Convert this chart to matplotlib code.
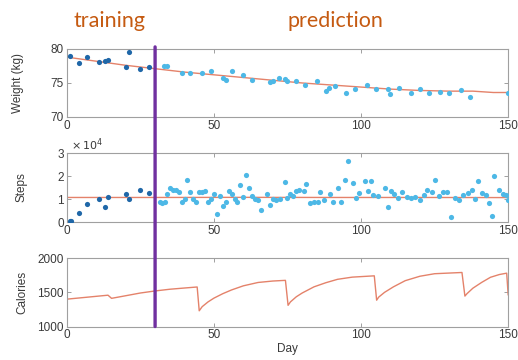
import matplotlib
matplotlib.use("Agg")
import matplotlib.pyplot as plt
from matplotlib.patches import ConnectionPatch

# observed weight (kg)
train_days = [1, 4, 7, 11, 13, 14, 20, 21, 25, 28]
train_weight = [78.9, 78.0, 78.8, 78.1, 78.3, 78.4, 77.3, 79.6, 77.1, 77.3]
pred_days = [33, 34, 39, 42, 46, 49, 53, 54, 56, 60, 63, 69, 70, 72, 74, 75, 78, 81,
             85, 88, 89, 91, 95, 98, 102, 105, 109, 110, 113, 117, 120, 123, 127, 130,
             134, 137, 150]
pred_weight = [77.5, 77.5, 76.4, 76.4, 76.4, 76.7, 75.8, 75.5, 76.7, 76.1, 75.4, 75.1,
               75.3, 75.8, 75.6, 75.3, 75.3, 74.7, 75.3, 73.8, 74.2, 74.5, 73.6, 74.1,
               74.7, 74.1, 74.1, 73.4, 74.3, 73.6, 74.1, 73.6, 73.7, 73.6, 73.9, 73.0, 73.6]
fit_days = [0, 10, 20, 30, 40, 50, 60, 70, 80, 90, 100, 110, 120, 130, 138, 145, 150]
fit_weight = [78.8, 78.2, 77.6, 77.1, 76.6, 76.2, 75.8, 75.4, 75.0, 74.7, 74.4, 74.1,
              73.9, 73.8, 73.8, 73.6, 73.6]

# daily steps
train_steps = [600, 500, 4000, 8000, 10000, 6600, 11100, 12100, 10000, 14100, 12700]
train_step_days = [1, 1.5, 4, 7, 11, 13, 14, 20, 21, 25, 28]
pred_step_days = [31.5, 32.4, 33.3, 34, 35, 36, 37, 38, 39, 40, 41, 42, 43, 44, 45, 46,
                  47, 48, 49, 50, 51, 52, 53, 54, 55, 56, 57, 58, 59, 60, 61, 62, 63, 64,
                  65, 66, 68, 69, 70, 71, 72.5, 74, 75, 76, 77, 78, 79, 80.5, 81.3, 82.8,
                  83.9, 85.3, 86.2, 87.4, 89.3, 90.5, 92.2, 93.3, 94.5, 95.4, 97.1, 98.4,
                  99.4, 101.3, 102.4, 103.4, 104.2, 105.6, 108.1, 109.3, 110.2, 111.3,
                  112.5, 113.8, 115.6, 117, 118.4, 119.9, 121.3, 122.4, 124.1, 125.3,
                  126.5, 127.8, 129.3, 130.5, 131.9, 133.3, 134.7, 136.2, 137.6, 138.8,
                  139.6, 141.1, 142.4, 143.6, 144.5, 145.3, 146.8, 148.2, 149.3, 150]
pred_steps = [8900, 8300, 8900, 12100, 14900, 14100, 13900, 13100, 8900, 10000, 18400,
              13100, 10000, 8900, 13100, 13100, 13400, 8900, 10000, 12400, 3600, 11300,
              7000, 8900, 13600, 12100, 10000, 8900, 16000, 11000, 20300, 14600, 11300,
              10000, 9600, 5300, 12100, 7400, 10000, 9600, 10000, 17400, 10600, 12100,
              11300, 13600, 13900, 13600, 16400, 8100, 8900, 8900, 13100, 9600, 12400,
              8900, 14900, 8900, 18100, 26400, 17000, 10300, 12700, 17700, 13400, 17900,
              11700, 11300, 14900, 6400, 13400, 12100, 10300, 13100, 11000, 10300, 11000,
              9600, 11700, 13900, 13100, 18400, 11300, 13100, 13100, 2100, 10300, 9600,
              11700, 12700, 14100, 9900, 17900, 12700, 11700, 8400, 2700, 19900, 13900,
              12100, 11700, 9600]
fit_step_days = [0, 30, 60, 90, 120, 150]
fit_steps = [10700, 10700, 10750, 10700, 10700, 10650]

# calorie intake
cal_days = [0, 14, 15.2, 20, 25, 30, 35, 40, 44.3, 45, 46, 48, 50, 53, 56, 60, 65, 70,
            74.3, 75.2, 76, 78, 80, 84, 88, 92, 97, 104.5, 105.3, 106, 108, 111, 115,
            120, 125, 134.3, 135.3, 136, 138, 141, 144, 147, 149.5, 150]
calories = [1400, 1458, 1412, 1450, 1490, 1520, 1545, 1563, 1578, 1230, 1290, 1360,
            1415, 1480, 1535, 1595, 1644, 1665, 1675, 1310, 1360, 1435, 1490, 1580, 1640,
            1690, 1722, 1741, 1385, 1430, 1500, 1580, 1670, 1735, 1772, 1790, 1445, 1480,
            1560, 1645, 1720, 1760, 1780, 1465]

split_day = 30

dark_blue = "#1f67a8"
light_blue = "#4db8e6"
fit_color = "#e4826a"
frame = "#a0a0a0"
tick_color = "#3a3a3a"

plt.rcParams["font.family"] = ["Liberation Sans", "DejaVu Sans"]
plt.rcParams["font.size"] = 8.5

fig = plt.figure(figsize=(5.18, 3.6), dpi=100)
ax1 = fig.add_axes([0.129, 0.675, 0.852, 0.189])
ax2 = fig.add_axes([0.129, 0.383, 0.852, 0.192])
ax3 = fig.add_axes([0.129, 0.093, 0.852, 0.190])


def style(ax):
    for s in ax.spines.values():
        s.set_color(frame)
        s.set_linewidth(0.8)
    ax.tick_params(direction="in", length=3, width=0.7, color=frame,
                   labelcolor=tick_color, top=True, right=True, labelsize=8.5, pad=2)
    ax.set_xlim(0, 150)
    ax.set_xticks([0, 50, 100, 150])


ax1.plot(fit_days, fit_weight, color=fit_color, lw=1)
ax1.scatter(train_days, train_weight, s=14, color=dark_blue, zorder=3, lw=0)
ax1.scatter(pred_days, pred_weight, s=14, color=light_blue, zorder=3, lw=0)
ax1.set_ylim(70, 80)
ax1.set_yticks([70, 75, 80])
ax1.set_ylabel("Weight (kg)", fontsize=8.5, color=tick_color)
style(ax1)

ax2.plot(fit_step_days, fit_steps, color=fit_color, lw=1)
ax2.scatter(train_step_days, train_steps, s=14, color=dark_blue, zorder=3, lw=0)
ax2.scatter(pred_step_days, pred_steps, s=14, color=light_blue, zorder=3, lw=0)
ax2.set_ylim(0, 30000)
ax2.set_yticks([0, 10000, 20000, 30000])
ax2.set_yticklabels(["0", "1", "2", "3"])
ax2.text(0.01, 1.0, r"$\times\,10^{4}$", transform=ax2.transAxes, fontsize=8,
         color=tick_color, va="bottom", ha="left")
ax2.set_ylabel("Steps", fontsize=8.5, color=tick_color)
style(ax2)

ax3.plot(cal_days, calories, color=fit_color, lw=1)
ax3.set_ylim(1000, 2000)
ax3.set_yticks([1000, 1500, 2000])
ax3.set_ylabel("Calories", fontsize=8.5, color=tick_color)
ax3.set_xlabel("Day", fontsize=8.5, color=tick_color, labelpad=1)
style(ax3)

ax1.yaxis.set_label_coords(-0.097, 0.5)
ax2.yaxis.set_label_coords(-0.088, 0.5)
ax3.yaxis.set_label_coords(-0.088, 0.5)

# boundary between training and prediction periods
con = ConnectionPatch(xyA=(split_day, 80.3), coordsA=ax1.transData,
                      xyB=(split_day, 1000), coordsB=ax3.transData,
                      color="#7030a0", lw=2.4, zorder=10)
fig.add_artist(con)

fig.text(0.211, 0.943, "training", color="#c55a11", fontsize=15.5,
         family=["Lato", "DejaVu Sans"], ha="center", va="center")
fig.text(0.648, 0.943, "prediction", color="#c55a11", fontsize=15.5,
         family=["Lato", "DejaVu Sans"], ha="center", va="center")

fig.savefig("out.png", dpi=100)
